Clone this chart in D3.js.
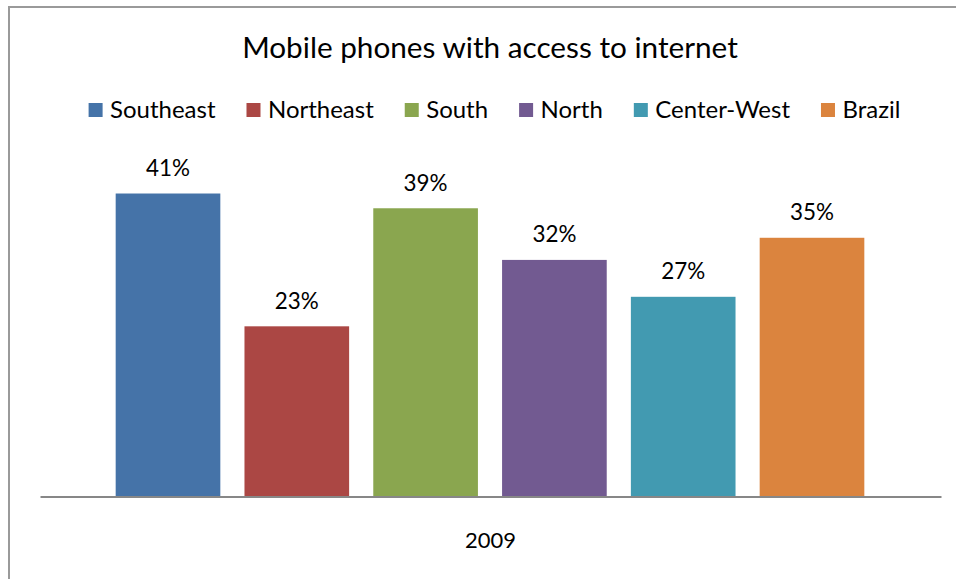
<!DOCTYPE html>
<html>
<head>
<meta charset="utf-8">
<script src="https://cdn.jsdelivr.net/npm/d3@7"></script>
<style>
  html, body { margin: 0; padding: 0; background: #fff; }
  svg { display: block; }
  text { font-family: Lato, "Open Sans", sans-serif; fill: #000; }
</style>
</head>
<body>
<svg id="chart" width="956" height="579"></svg>
<script>
// Chart content
const title = "Mobile phones with access to internet";
const categories = ["2009"];
const series = ["Southeast", "Northeast", "South", "North", "Center-West", "Brazil"];
const values = [41, 23, 39, 32, 27, 35];           // percent, year 2009
const colors = ["#4573A8", "#AB4744", "#8AA64F", "#725A91", "#429AB1", "#DB843E"];
const yMax = 45;

const W = 956, H = 579;
const plot = { left: 40, right: 941, top: 164, baseline: 496 };

const svg = d3.select("#chart");

// Shrinks/grows a text's font size so its rendered width equals target
function fitText(sel, target) {
  const w = sel.node().getComputedTextLength();
  const fs = parseFloat(sel.attr("font-size"));
  return fs * target / w;
}

// Outer frame of the chart object
svg.append("rect")
  .attr("x", 9).attr("y", 7)
  .attr("width", W + 20).attr("height", H + 20)
  .attr("fill", "#fff")
  .attr("stroke", "#9a9a9a")
  .attr("stroke-width", 2);

// Scales
const xCat = d3.scaleBand().domain(categories).range([plot.left, plot.right]);
const xSer = d3.scaleBand()
  .domain(series)
  .range([xCat("2009") + 63.6, xCat("2009") + xCat.bandwidth() - 64.6])
  .paddingInner(0.1875)
  .paddingOuter(0.09375);
const y = d3.scaleLinear().domain([0, yMax]).range([plot.baseline, plot.top]);

// Title
const t = svg.append("text")
  .attr("font-size", 30)
  .attr("text-anchor", "middle")
  .attr("x", 490).attr("y", 58)
  .text(title);
t.attr("font-size", fitText(t, 496));

// Legend
const leg = svg.append("g");
const items = leg.selectAll("g").data(series).join("g");
items.append("rect")
  .attr("width", 14).attr("height", 14)
  .attr("y", 103)
  .attr("fill", (d, i) => colors[i]);
const legTexts = items.append("text")
  .attr("font-size", 24)
  .attr("y", 118)
  .text(d => d);
const sumW = d3.sum(legTexts.nodes(), n => n.getComputedTextLength());
const legFs = 24 * 528 / sumW;
legTexts.attr("font-size", legFs);
const widths = legTexts.nodes().map(n => n.getComputedTextLength());
const swatch = 14, gapText = 7.5, gapItem = 31;
const totalW = d3.sum(widths) + series.length * (swatch + gapText) + (series.length - 1) * gapItem;
let cx = 494.5 - totalW / 2;
items.each(function (d, i) {
  const g = d3.select(this);
  g.select("rect").attr("x", cx);
  g.select("text").attr("x", cx + swatch + gapText);
  cx += swatch + gapText + widths[i] + gapItem;
});

// Bars
const data = series.map((s, i) => ({ s, v: values[i], c: colors[i] }));
svg.append("g").selectAll("rect").data(data).join("rect")
  .attr("x", d => xSer(d.s))
  .attr("width", xSer.bandwidth())
  .attr("y", d => y(d.v))
  .attr("height", d => y(0) - y(d.v))
  .attr("fill", d => d.c);

// Value labels
const labels = svg.append("g").selectAll("text").data(data).join("text")
  .attr("text-anchor", "middle")
  .attr("font-size", 24)
  .attr("x", d => xSer(d.s) + xSer.bandwidth() / 2)
  .attr("y", d => y(d.v) - 17.5)
  .text(d => d.v + "%");
labels.attr("font-size", fitText(d3.select(labels.nodes()[0]), 44));

// Category axis
const axis = svg.append("g")
  .attr("transform", `translate(0,${plot.baseline + 0.5})`)
  .call(d3.axisBottom(xCat).tickSize(0).tickSizeOuter(0));
axis.select(".domain").attr("stroke", "#878787").attr("stroke-width", 2);
const tick = axis.selectAll(".tick text")
  .attr("fill", "#000")
  .attr("font-family", null)
  .attr("dy", null)
  .attr("y", 51.5)
  .attr("font-size", 24);
tick.attr("font-size", fitText(tick, 51));
</script>
</body>
</html>
